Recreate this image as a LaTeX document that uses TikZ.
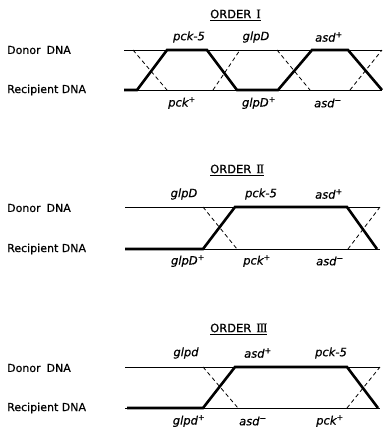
\documentclass[tikz,border=0pt]{standalone}
\usepackage{fontspec}
\setmainfont{DejaVu Sans}[FakeBold=0.6]
\newfontfamily\numfont{Liberation Serif}[FakeBold=0.6]
\newcommand{\rnI}{{\numfont\fontsize{13}{14}\selectfont I}}
\newcommand{\rnII}{{\numfont\fontsize{13}{14}\selectfont I\kern-1pt I}}
\newcommand{\rnIII}{{\numfont\fontsize{13}{14}\selectfont I\kern-1pt I\kern-1pt I}}
\begin{document}
\begin{tikzpicture}[x=1pt,y=-1pt,
  strand/.style={line width=0.8pt},
  hybrid/.style={line width=2.6pt, line join=miter},
  xover/.style={line width=0.8pt, dash pattern=on 4pt off 3pt},
  side/.style={anchor=west, inner sep=0pt, font=\fontsize{11}{13}\selectfont},
  gene/.style={inner sep=0pt, font=\fontsize{11.5}{13}\selectfont\itshape},
  title/.style={anchor=west, inner sep=0pt, font=\fontsize{11.5}{13}\selectfont}]
\useasboundingbox (0,0) rectangle (383,429);

% ---------------- Order I ----------------
\node[title] (t1) at (210,15) {\underline{ORDER\hspace{5pt}\rnI}};
\node[side] (don1) at (7,50) {Donor\hspace{6pt}DNA};
\node[side] (rec1) at (7,90) {Recipient DNA};
\coordinate (d1a) at (124,50); \coordinate (d1b) at (382,50);
\coordinate (r1a) at (124,90); \coordinate (r1b) at (382,90);
\draw[strand] (d1a) -- (d1b);
\draw[strand] (r1a) -- (r1b);
\draw[xover] (133,50) -- (167,90);
\draw[xover] (213,90) -- (240,50);
\draw[xover] (277,50) -- (310,90);
\draw[xover] (350,90) -- (382,50);
\draw[hybrid] (r1a) -- (137,90) -- (167,50) -- (207,50) -- (237,90)
  -- (278,90) -- (312,50) -- (348,50) -- (r1b);
\node[gene] (g1a) at (189,37) {pck-5};
\node[gene] (g1b) at (256,37) {glpD};
\node[gene] (g1c) at (329,37) {asd\textsuperscript{+}};
\node[gene] (g1d) at (182,103) {pck\textsuperscript{+}};
\node[gene] (g1e) at (259,103) {glpD\textsuperscript{+}};
\node[gene] (g1f) at (328,103) {asd\textsuperscript{−}};

% ---------------- Order II ----------------
\node[title] (t2) at (210,170) {\underline{ORDER\hspace{5pt}\rnII}};
\node[side] (don2) at (7,208) {Donor\hspace{6pt}DNA};
\node[side] (rec2) at (7,249) {Recipient DNA};
\coordinate (d2a) at (125,207); \coordinate (d2b) at (380,207);
\coordinate (r2a) at (125,249); \coordinate (r2b) at (380,249);
\draw[strand] (d2a) -- (d2b);
\draw[strand] (r2a) -- (r2b);
\draw[xover] (203,207) -- (237,249);
\draw[xover] (348,249) -- (380,207);
\draw[hybrid] (r2a) -- (203,249) -- (235,207) -- (347,207) -- (377,249);
\node[gene] (g2a) at (184,194) {glpD};
\node[gene] (g2b) at (261,194) {pck-5};
\node[gene] (g2c) at (329,194) {asd\textsuperscript{+}};
\node[gene] (g2d) at (188,261) {glpD\textsuperscript{+}};
\node[gene] (g2e) at (257,261) {pck\textsuperscript{+}};
\node[gene] (g2f) at (330,261) {asd\textsuperscript{−}};

% ---------------- Order III ----------------
\node[title] (t3) at (210,329) {\underline{ORDER\hspace{5pt}\rnIII}};
\node[side] (don3) at (7,368) {Donor\hspace{6pt}DNA};
\node[side] (rec3) at (7,408) {Recipient DNA};
\coordinate (d3a) at (125,367); \coordinate (d3b) at (380,367);
\coordinate (r3a) at (125,408); \coordinate (r3b) at (380,408);
\draw[strand] (d3a) -- (d3b);
\draw[strand] (r3a) -- (r3b);
\draw[xover] (203,367) -- (238,408);
\draw[xover] (347,408) -- (380,367);
\draw[hybrid] (127,408) -- (203,408) -- (235,367) -- (347,367) -- (378,408);
\node[gene] (g3a) at (186,353) {glpd};
\node[gene] (g3b) at (258,353) {asd\textsuperscript{+}};
\node[gene] (g3c) at (331,353) {pck-5};
\node[gene] (g3d) at (189,421) {glpd\textsuperscript{+}};
\node[gene] (g3e) at (253,421) {asd\textsuperscript{−}};
\node[gene] (g3f) at (330,421) {pck\textsuperscript{+}};
\end{tikzpicture}
\end{document}
